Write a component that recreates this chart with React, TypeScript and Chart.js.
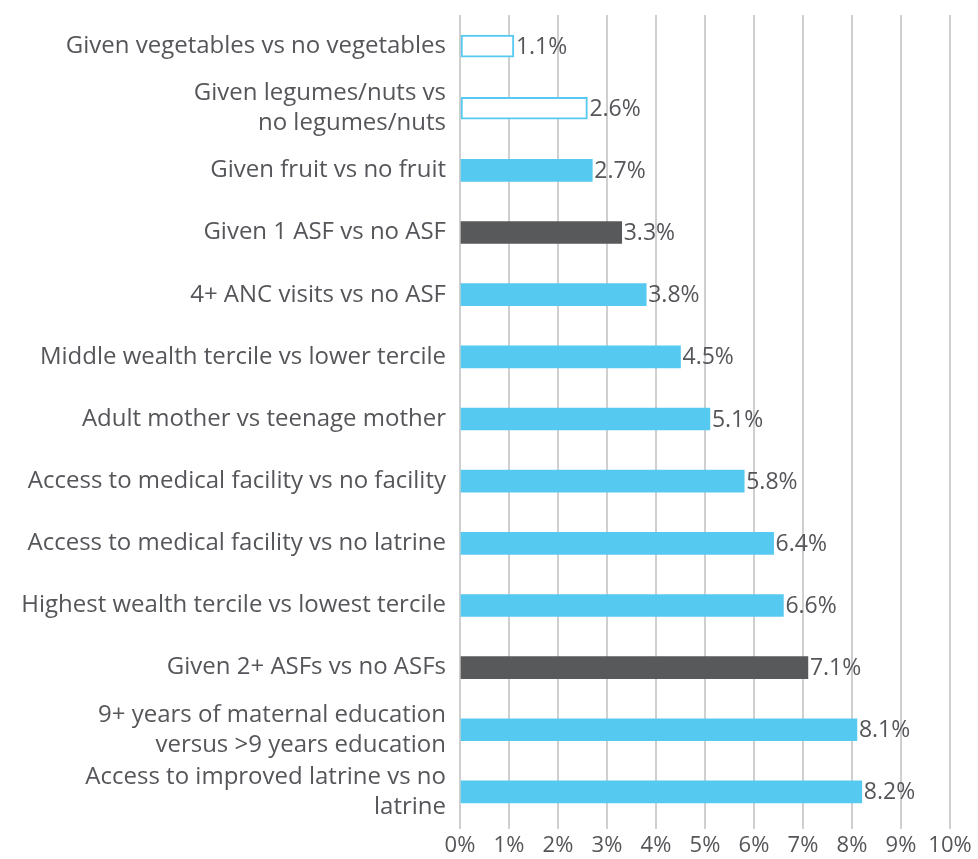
import React, { useEffect, useRef } from "react";
import { Chart, registerables } from "chart.js";

Chart.register(...registerables);

const categories: (string | string[])[] = [
  "Given vegetables vs no vegetables",
  ["Given legumes/nuts vs", "no legumes/nuts"],
  "Given fruit vs no fruit",
  "Given 1 ASF vs no ASF",
  "4+ ANC visits vs no ASF",
  "Middle wealth tercile vs lower tercile",
  "Adult mother vs teenage mother",
  "Access to medical facility vs no facility",
  "Access to medical facility vs no latrine",
  "Highest wealth tercile vs lowest tercile",
  "Given 2+ ASFs vs no ASFs",
  ["9+ years of maternal education", "versus >9 years education"],
  ["Access to improved latrine vs no", "latrine"],
];

const values = [1.1, 2.6, 2.7, 3.3, 3.8, 4.5, 5.1, 5.8, 6.4, 6.6, 7.1, 8.1, 8.2];

// bar style kind: "outline" | "blue" | "dark"
const kinds = [
  "outline", "outline", "blue", "dark", "blue", "blue", "blue",
  "blue", "blue", "blue", "dark", "blue", "blue",
];

const xTicks = [0, 1, 2, 3, 4, 5, 6, 7, 8, 9, 10];

const BLUE = "#56C9F0";
const DARK = "#58595B";
const TEXT = "#55565a";
const FONT = "'Open Sans', Lato, sans-serif";
const FONT_SIZE = 24;

const valueLabels = {
  id: "valueLabels",
  afterDatasetsDraw(chart: any) {
    const ctx = chart.ctx;
    const meta = chart.getDatasetMeta(0);
    ctx.save();
    ctx.font = `23px ${FONT}`;
    ctx.fillStyle = TEXT;
    ctx.textAlign = "left";
    ctx.textBaseline = "middle";
    meta.data.forEach((bar: any, i: number) => {
      ctx.fillText(`${values[i].toFixed(1)}%`, bar.x + 2, bar.y + 1);
    });
    ctx.restore();
  },
};

export default function App() {
  const ref = useRef<HTMLCanvasElement>(null);
  useEffect(() => {
    const chart = new Chart(ref.current!, {
      type: "bar",
      data: {
        labels: categories,
        datasets: [
          {
            data: values,
            backgroundColor: kinds.map((k) => (k === "outline" ? "#ffffff" : k === "dark" ? DARK : BLUE)),
            borderColor: kinds.map((k) => (k === "outline" ? BLUE : "rgba(0,0,0,0)")),
            borderWidth: kinds.map((k) => (k === "outline" ? 2 : 0)),
            borderSkipped: false,
            barThickness: 22,
          },
        ],
      },
      options: {
        indexAxis: "y",
        responsive: false,
        animation: false,
        layout: { padding: { top: 15, right: 28, left: 0, bottom: 0 } },
        plugins: { legend: { display: false }, tooltip: { enabled: false } },
        scales: {
          x: {
            min: 0,
            max: 10,
            afterBuildTicks: (scale: any) => {
              scale.ticks = xTicks.map((v) => ({ value: v }));
            },
            afterFit: (scale: any) => {
              scale.height = 36;
              scale.paddingLeft = 0;
              scale.paddingRight = 0;
            },
            grid: { color: "#cfcfcf", lineWidth: 2, drawTicks: true, tickLength: 6 },
            border: { display: false },
            ticks: {
              callback: (v: any) => `${v}%`,
              color: TEXT,
              font: { family: FONT, size: 22 },
              padding: 4,
              maxRotation: 0,
              autoSkip: false,
            },
          },
          y: {
            afterFit: (scale: any) => {
              scale.width = 460;
              scale.paddingTop = 0;
              scale.paddingBottom = 0;
            },
            grid: { display: false, drawTicks: false },
            border: { display: false },
            ticks: {
              color: TEXT,
              font: { family: FONT, size: FONT_SIZE, lineHeight: 1.25 },
              padding: 14,
              autoSkip: false,
            },
          },
        },
      },
      plugins: [valueLabels],
    });
    return () => chart.destroy();
  }, []);
  return (
    <div style={{ position: "absolute", left: 0, top: 0, width: 978, height: 859 }}>
      <canvas ref={ref} width={978} height={859} />
    </div>
  );
}
